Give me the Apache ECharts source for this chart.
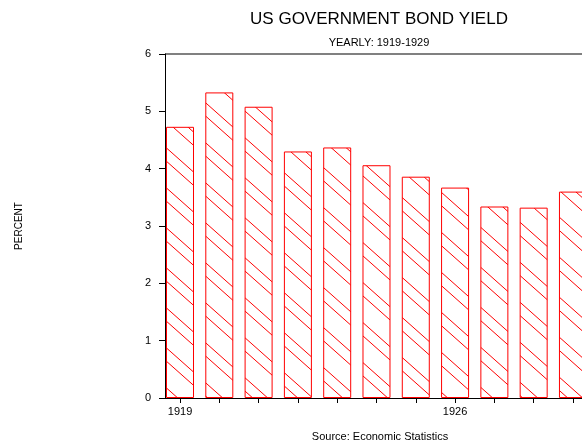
<!DOCTYPE html>
<html>
<head>
<meta charset="utf-8">
<script src="https://cdn.jsdelivr.net/npm/echarts@6/dist/echarts.min.js"></script>
<style>html,body{margin:0;padding:0;background:#fff}#c{width:582px;height:444px}</style>
</head>
<body>
<div id="c"></div>
<script>
const years = [1919, 1920, 1921, 1922, 1923, 1924, 1925, 1926, 1927, 1928, 1929];
const yields = [4.73, 5.33, 5.08, 4.30, 4.37, 4.06, 3.86, 3.67, 3.34, 3.32, 3.60];
const xLabelYears = [1919, 1926];

function hatch() {
  const c = document.createElement('canvas');
  c.width = 45; c.height = 40;
  const g = c.getContext('2d');
  g.strokeStyle = '#ff0000';
  g.lineWidth = 1;
  const offs = [0, 13.3];
  for (const o of offs) {
    for (const s of [-40, 0, 40]) {
      g.beginPath();
      g.moveTo(0, o + s);
      g.lineTo(45, o + s + 40);
      g.stroke();
    }
  }
  return c;
}

const font = 'Liberation Sans, Arial, sans-serif';
const chart = echarts.init(document.getElementById('c'), null, {renderer: 'canvas'});
chart.setOption({
  animation: false,
  backgroundColor: '#fff',
  title: [
    {text: 'US GOVERNMENT BOND YIELD', left: 374, top: 6, textAlign: 'center',
     textStyle: {fontFamily: font, fontSize: 17, fontWeight: 'normal', color: '#000'}},
    {text: 'YEARLY: 1919-1929', left: 374, top: 32, textAlign: 'center',
     textStyle: {fontFamily: font, fontSize: 11, fontWeight: 'normal', color: '#000'}},
    {text: 'Source: Economic Statistics', left: 375, top: 426, textAlign: 'center',
     textStyle: {fontFamily: font, fontSize: 11, fontWeight: 'normal', color: '#000'}}
  ],
  grid: {left: 165, top: 54, right: 0, bottom: 46, containLabel: false},
  xAxis: {
    type: 'value', min: 1918.618, max: 1929.23,
    axisLine: {show: true, lineStyle: {color: '#000', width: 1}},
    axisTick: {show: true, length: 5, lineStyle: {color: '#000'}, customValues: years},
    axisLabel: {show: true, customValues: xLabelYears, fontFamily: font, fontSize: 11, color: '#000', margin: 8,
                formatter: v => String(v)},
    splitLine: {show: false}
  },
  yAxis: {
    type: 'value', min: 0, max: 6, interval: 1,
    name: 'PERCENT', nameLocation: 'middle', nameGap: 141, nameRotate: 90,
    nameTextStyle: {fontFamily: font, fontSize: 10, color: '#000'},
    axisLine: {show: true, lineStyle: {color: '#000', width: 1}},
    axisTick: {show: true, length: 6, lineStyle: {color: '#000'}},
    axisLabel: {fontFamily: font, fontSize: 11, color: '#000', margin: 14},
    splitLine: {show: false}
  },
  graphic: [
    {type: 'line', shape: {x1: 165, y1: 54, x2: 582, y2: 54}, style: {stroke: '#808080', lineWidth: 2}}
  ],
  series: [{
    type: 'bar',
    barWidth: 28,
    data: years.map((y, i) => [y, yields[i]]),
    itemStyle: {
      color: {image: hatch(), repeat: 'repeat'},
      borderColor: '#ff0000', borderWidth: 1
    }
  }]
});
</script>
</body>
</html>
